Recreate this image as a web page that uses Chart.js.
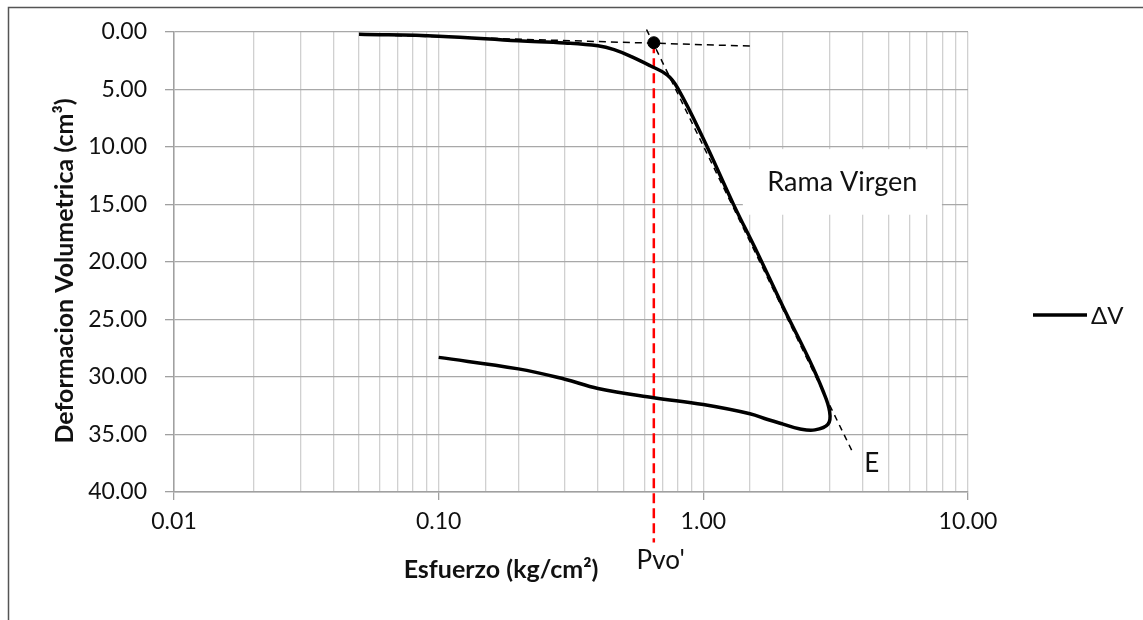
<!DOCTYPE html>
<html>
<head>
<meta charset="utf-8">
<script src="https://cdn.jsdelivr.net/npm/chart.js@4.4.1/dist/chart.umd.min.js"></script>
<style>
   body { margin: 0; background: #fff; }
   canvas { display: block; }
</style>
</head>
<body>
<canvas id="myChart" width="1143" height="620"></canvas>
<script>
// curva de compresion: carga y descarga
let esfuerzo = [0.05, 0.1, 0.2, 0.3, 0.4, 0.46, 0.54, 0.63, 0.73, 0.8, 1.0, 1.3, 1.6, 2.0, 2.5, 2.83, 3.0,
   2.96, 2.64, 2.3, 2.0, 1.75, 1.5, 1.0, 0.65, 0.4, 0.3, 0.2, 0.1];
let deformacion = [0.22, 0.38, 0.78, 0.97, 1.22, 1.55, 2.2, 2.95, 3.75, 4.9, 9.3, 15.0, 19.2, 23.9, 28.4, 31.2, 33.0,
   34.1, 34.6, 34.5, 34.1, 33.7, 33.2, 32.4, 31.8, 31.0, 30.2, 29.3, 28.3];

// rectas auxiliares (Casagrande)
let tangenteX = [0.05, 1.55];
let tangenteY = [0.23, 1.25];
let virgenX = [0.61, 3.64];
let virgenY = [-0.2, 36.4];
let pvoX = [0.65, 0.65];
let pvoY = [1.0, 44.4];
let puntoX = [0.65];
let puntoY = [0.95];

// ejes
let xLabels = [0.01, 0.1, 1, 10];
let yMin = 0, yMax = 40, yStep = 5;

let font = "Lato";
let toPoints = (xs, ys) => xs.map((x, i) => ({ x: x, y: ys[i] }));
let isDecade = (v) => xLabels.some((d) => Math.abs(d - v) < 1e-9);

// textos sobre el grafico
let textos = {
   id: "textos",
   beforeDatasetsDraw(chart) {
      let { ctx, scales } = chart;
      let x = scales.x, y = scales.y;
      // caja "Rama Virgen"
      let x0 = x.getPixelForValue(1.41), x1 = x.getPixelForValue(7.97);
      let y0 = y.getPixelForValue(10.2), y1 = y.getPixelForValue(15.9);
      ctx.save();
      ctx.fillStyle = "#fff";
      ctx.fillRect(x0, y0, x1 - x0, y1 - y0);
      ctx.fillStyle = "#111";
      ctx.font = "27px " + font;
      ctx.textAlign = "center";
      ctx.textBaseline = "middle";
      ctx.fillText("Rama Virgen", (x0 + x1) / 2, (y0 + y1) / 2);
      ctx.restore();
   },
   afterDraw(chart) {
      let { ctx, scales } = chart;
      let x = scales.x, y = scales.y;
      ctx.save();
      ctx.fillStyle = "#111";
      ctx.textAlign = "center";
      ctx.textBaseline = "middle";
      ctx.font = "26px " + font;
      ctx.fillText("E", x.getPixelForValue(4.33), y.getPixelForValue(37.5));
      ctx.fillText("Pvo'", x.getPixelForValue(0.69), y.getPixelForValue(46.0));

      // titulos de ejes
      ctx.font = "bold 25px " + font;
      ctx.fillText("Esfuerzo (kg/cm²)", 501, 570);
      ctx.translate(65, 271);
      ctx.rotate(-Math.PI / 2);
      ctx.fillText("Deformacion Volumetrica (cm³)", 0, 0);
      ctx.restore();

      // leyenda
      let ds = chart.data.datasets[1];
      ctx.save();
      ctx.strokeStyle = ds.borderColor;
      ctx.lineWidth = ds.borderWidth;
      ctx.beginPath();
      ctx.moveTo(1033, 315);
      ctx.lineTo(1087, 315);
      ctx.stroke();
      ctx.fillStyle = "#111";
      ctx.font = "24px " + font;
      ctx.textBaseline = "middle";
      ctx.fillText(ds.label, 1091, 316);

      // marco
      ctx.strokeStyle = "#555";
      ctx.lineWidth = 1.5;
      ctx.beginPath();
      ctx.moveTo(8.5, 620);
      ctx.lineTo(8.5, 7.5);
      ctx.lineTo(1143, 7.5);
      ctx.stroke();
      ctx.restore();
   },
};

new Chart("myChart", {
   type: "scatter",
   data: {
      datasets: [
         {
            label: "punto",
            data: toPoints(puntoX, puntoY),
            backgroundColor: "#000",
            borderColor: "#000",
            pointRadius: 6,
            showLine: false,
            clip: false,
         },
         {
            label: "ΔV",
            data: toPoints(esfuerzo, deformacion),
            borderColor: "#000",
            borderWidth: 3.5,
            pointRadius: 0,
            showLine: true,
            tension: 0.4,
         },
         {
            label: "pvo",
            data: toPoints(pvoX, pvoY),
            borderColor: "#ff0000",
            borderWidth: 2.5,
            borderDash: [10, 5],
            pointRadius: 0,
            showLine: true,
            clip: false,
         },
         {
            label: "virgen",
            data: toPoints(virgenX, virgenY),
            borderColor: "#000",
            borderWidth: 1.5,
            borderDash: [6, 5],
            pointRadius: 0,
            showLine: true,
            clip: false,
         },
         {
            label: "tangente",
            data: toPoints(tangenteX, tangenteY),
            borderColor: "#000",
            borderWidth: 1.5,
            borderDash: [7, 5],
            pointRadius: 0,
            showLine: true,
         },
      ],
   },
   options: {
      responsive: false,
      animation: false,
      devicePixelRatio: 1,
      layout: { padding: { left: 0, top: 29, right: 175, bottom: 0 } },
      plugins: {
         legend: { display: false },
         tooltip: { enabled: false },
      },
      scales: {
         x: {
            type: "logarithmic",
            min: 0.01,
            max: 10,
            afterFit: (s) => { s.height = 128; },
            border: { color: "#a0a0a0", width: 1.5 },
            grid: {
               color: "#d0d0d0",
               lineWidth: 1.3,
               tickLength: 8,
               tickColor: (c) => (c.tick && isDecade(c.tick.value) ? "#a0a0a0" : "rgba(0,0,0,0)"),
            },
            ticks: {
               autoSkip: false,
               maxRotation: 0,
               padding: 8,
               color: "#111",
               font: { family: font, size: 23 },
               callback: (v) => (isDecade(v) ? v.toFixed(2) : ""),
            },
         },
         y: {
            reverse: true,
            min: yMin,
            max: yMax,
            afterFit: (s) => { s.width = 174; },
            border: { color: "#a0a0a0", width: 1.5 },
            grid: { color: "#a8a8a8", lineWidth: 1.3, tickLength: 9, tickColor: "#a0a0a0" },
            ticks: {
               stepSize: yStep,
               padding: 18,
               color: "#111",
               font: { family: font, size: 23 },
               callback: (v) => v.toFixed(2),
            },
         },
      },
   },
   plugins: [textos],
});
</script>
</body>
</html>
